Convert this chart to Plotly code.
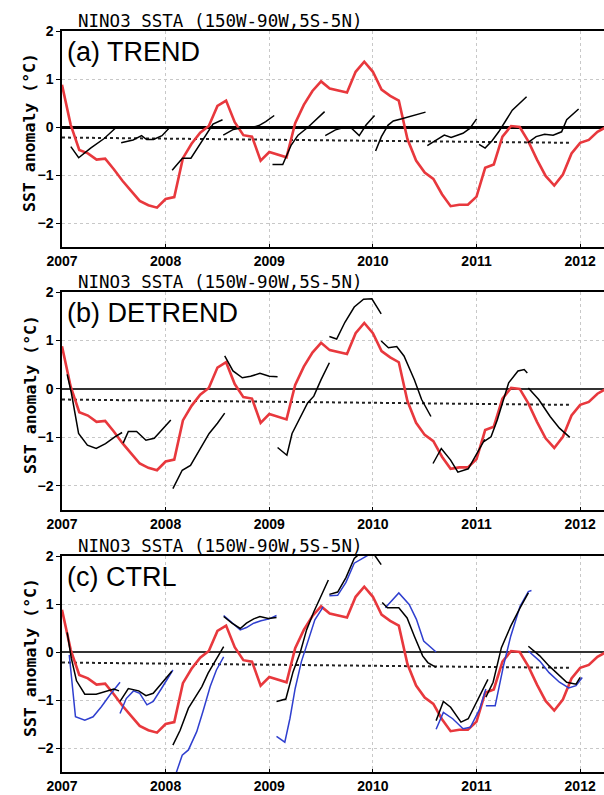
import plotly.graph_objects as go

# ---------------- data ----------------
# observed Nino3 SSTA, monthly from 2007.0
OBS_START = 2007.0
OBS_VALUES = [0.88, 0.05, -0.48, -0.55, -0.68, -0.66, -0.88, -1.12, -1.33, -1.54, -1.63, -1.68,
              -1.50, -1.46, -0.65, -0.35, -0.12, 0.02, 0.44, 0.55, 0.10, -0.17, -0.20, -0.70,
              -0.52, -0.58, -0.63, 0.08, 0.46, 0.75, 0.95, 0.80, 0.76, 0.72, 1.15, 1.36,
              1.15, 0.78, 0.65, 0.55, -0.25, -0.70, -0.95, -1.08, -1.40, -1.65, -1.62, -1.62,
              -1.45, -0.85, -0.78, -0.20, 0.02, 0.00, -0.30, -0.68, -1.02, -1.22, -0.99, -0.55,
              -0.33, -0.27, -0.10, 0.00]

# mean / trend reference line
REF_X = [2007.0, 2011.92]
REF_Y = [-0.22, -0.33]

# (a) TREND forecasts
TREND_X = [
    [2007.085, 2007.161, 2007.276, 2007.407, 2007.522],
    [2007.571, 2007.686, 2007.768, 2007.817, 2007.883, 2007.965, 2008.03],
    [2008.063, 2008.162, 2008.244, 2008.326, 2008.392, 2008.457, 2008.549],
    [2008.556, 2008.654, 2008.769, 2008.85, 2008.90, 2008.966, 2009.048],
    [2009.031, 2009.130, 2009.212, 2009.278, 2009.376, 2009.458, 2009.534],
    [2009.540, 2009.639, 2009.737, 2009.786, 2009.868, 2009.934, 2010.016],
    [2010.026, 2010.082, 2010.147, 2010.197, 2010.279, 2010.393, 2010.508],
    [2010.525, 2010.623, 2010.689, 2010.755, 2010.869, 2010.935, 2011.001],
    [2011.024, 2011.083, 2011.148, 2011.214, 2011.280, 2011.345, 2011.483],
    [2011.493, 2011.575, 2011.657, 2011.739, 2011.821, 2011.870, 2011.985],
]
TREND_Y = [
    [-0.41, -0.64, -0.44, -0.24, -0.01],
    [-0.33, -0.27, -0.18, -0.26, -0.26, -0.18, -0.03],
    [-0.90, -0.65, -0.65, -0.375, -0.13, 0.06, 0.15],
    [-0.17, -0.05, 0.0, 0.0, 0.03, 0.11, 0.24],
    [-0.78, -0.78, -0.375, -0.17, 0.0, 0.17, 0.32],
    [-0.18, -0.06, 0.0, -0.01, -0.18, 0.04, 0.24],
    [-0.50, -0.20, 0.04, 0.125, 0.17, 0.24, 0.31],
    [-0.39, -0.25, -0.17, -0.22, -0.13, -0.03, 0.17],
    [-0.36, -0.44, -0.29, -0.10, 0.125, 0.35, 0.63],
    [-0.33, -0.20, -0.15, -0.17, -0.10, 0.15, 0.375],
]

# (b) DETREND forecasts
DETREND_X = [
    [2007.05, 2007.09, 2007.16, 2007.245, 2007.33, 2007.42, 2007.51, 2007.58],
    [2007.59, 2007.64, 2007.72, 2007.81, 2007.89, 2007.96, 2008.05],
    [2008.07, 2008.16, 2008.24, 2008.33, 2008.42, 2008.50, 2008.57],
    [2008.57, 2008.65, 2008.74, 2008.82, 2008.91, 2009.00, 2009.08],
    [2009.08, 2009.17, 2009.22, 2009.30, 2009.37, 2009.43, 2009.50, 2009.58],
    [2009.58, 2009.65, 2009.73, 2009.82, 2009.91, 2009.99, 2010.08],
    [2010.08, 2010.15, 2010.23, 2010.30, 2010.40, 2010.47, 2010.56],
    [2010.58, 2010.66, 2010.75, 2010.82, 2010.92, 2011.01, 2011.08],
    [2011.07, 2011.14, 2011.20, 2011.25, 2011.31, 2011.40, 2011.46, 2011.49],
    [2011.50, 2011.60, 2011.71, 2011.80, 2011.90],
]
DETREND_Y = [
    [0.30, -0.08, -0.92, -1.16, -1.23, -1.13, -0.99, -0.90],
    [-1.12, -0.88, -0.88, -1.06, -1.02, -0.85, -0.64],
    [-2.06, -1.68, -1.58, -1.26, -0.92, -0.71, -0.50],
    [0.68, 0.37, 0.23, 0.26, 0.32, 0.26, 0.25],
    [-1.21, -1.37, -0.92, -0.57, -0.29, -0.15, 0.19, 0.54],
    [1.08, 1.03, 1.375, 1.69, 1.85, 1.86, 1.55],
    [0.99, 0.85, 0.875, 0.68, 0.19, -0.22, -0.57],
    [-1.54, -1.23, -1.47, -1.72, -1.65, -1.30, -1.04],
    [-1.09, -0.99, -0.64, -0.29, 0.125, 0.37, 0.40, 0.33],
    [0.02, -0.22, -0.57, -0.81, -1.00],
]

# (c) CTRL forecasts, black and blue members
CTRL_BLACK_X = [
    [2007.05, 2007.09, 2007.14, 2007.22, 2007.33, 2007.43, 2007.50, 2007.55],
    [2007.56, 2007.64, 2007.74, 2007.81, 2007.88, 2007.95, 2008.06],
    [2008.07, 2008.14, 2008.22, 2008.28, 2008.35, 2008.41, 2008.49, 2008.56],
    [2008.56, 2008.64, 2008.72, 2008.78, 2008.85, 2008.91, 2008.99, 2009.07],
    [2009.07, 2009.16, 2009.23, 2009.30, 2009.36, 2009.43, 2009.49, 2009.57],
    [2009.58, 2009.66, 2009.74, 2009.82, 2009.90, 2009.99, 2010.08],
    [2010.09, 2010.14, 2010.25, 2010.33, 2010.40, 2010.48, 2010.53, 2010.61],
    [2010.61, 2010.68, 2010.75, 2010.85, 2010.92, 2011.01, 2011.11],
    [2011.09, 2011.16, 2011.24, 2011.33, 2011.42, 2011.50],
    [2011.50, 2011.61, 2011.70, 2011.80, 2011.87, 2011.96, 2012.00],
]
CTRL_BLACK_Y = [
    [0.41, -0.13, -0.60, -0.88, -0.88, -0.81, -0.77, -0.81],
    [-1.03, -0.76, -0.81, -0.91, -0.86, -0.69, -0.40],
    [-1.94, -1.63, -1.17, -0.97, -0.72, -0.44, -0.13, 0.11],
    [0.74, 0.60, 0.49, 0.60, 0.69, 0.74, 0.70, 0.72],
    [-1.03, -0.98, -0.41, 0.0, 0.46, 0.84, 1.12, 1.50],
    [1.20, 1.25, 1.55, 1.95, 2.10, 2.10, 1.82],
    [1.03, 0.92, 0.92, 0.71, 0.33, -0.08, -0.22, -0.32],
    [-1.43, -1.03, -1.15, -1.46, -1.39, -1.01, -0.57],
    [-0.94, -0.63, 0.09, 0.54, 0.92, 1.23],
    [0.12, -0.08, -0.29, -0.50, -0.63, -0.67, -0.53],
]
CTRL_BLUE_X = [
    [2007.07, 2007.13, 2007.22, 2007.30, 2007.38, 2007.46, 2007.56],
    [2007.56, 2007.62, 2007.69, 2007.75, 2007.82, 2007.88, 2007.96, 2008.07],
    [2008.10, 2008.16, 2008.22, 2008.30, 2008.36, 2008.43, 2008.49, 2008.56],
    [2008.56, 2008.64, 2008.72, 2008.78, 2008.85, 2008.92, 2009.00, 2009.07],
    [2009.07, 2009.15, 2009.20, 2009.25, 2009.31, 2009.38, 2009.44, 2009.52],
    [2009.58, 2009.66, 2009.74, 2009.82, 2009.90, 2009.98, 2010.07],
    [2010.12, 2010.18, 2010.25, 2010.35, 2010.42, 2010.49, 2010.55, 2010.61],
    [2010.61, 2010.68, 2010.77, 2010.87, 2010.94, 2011.03, 2011.09],
    [2011.09, 2011.18, 2011.26, 2011.33, 2011.42, 2011.50, 2011.53],
    [2011.50, 2011.61, 2011.70, 2011.80, 2011.89, 2011.96, 2012.02],
]
CTRL_BLUE_Y = [
    [-0.06, -1.35, -1.42, -1.35, -1.14, -0.90, -0.63],
    [-1.28, -0.97, -0.81, -0.86, -1.10, -1.03, -0.76, -0.375],
    [-2.53, -2.15, -2.04, -1.66, -1.24, -0.72, -0.375, -0.10],
    [0.76, 0.62, 0.46, 0.51, 0.60, 0.65, 0.69, 0.76],
    [-1.76, -1.88, -1.38, -0.76, -0.20, 0.25, 0.67, 0.94],
    [1.17, 1.18, 1.45, 1.85, 1.95, 2.05, 2.20],
    [0.92, 1.06, 1.23, 0.99, 0.68, 0.23, 0.12, 0.0],
    [-1.61, -1.26, -1.39, -1.60, -1.57, -1.19, -0.77],
    [-1.12, -1.12, -0.29, 0.33, 0.95, 1.26, 1.28],
    [0.02, -0.19, -0.43, -0.63, -0.75, -0.70, -0.53],
]

PANEL_LABELS = ["(a) TREND", "(b) DETREND", "(c) CTRL"]
PANEL_TITLE = "NINO3 SSTA (150W-90W,5S-5N)"
X_TICKS = [2007, 2008, 2009, 2010, 2011, 2012]
Y_TICKS = [-2, -1, 0, 1, 2]
X_RANGE = [2007.0, 2012.23]
Y_RANGE = [-2.5, 2.0]

# ---------------- style / layout ----------------
W, H = 604, 795
ML = 62
RED = "#e8383d"
BLUE = "#2f3fcf"
# panel pixel boxes (top, bottom)
PANELS = [(31, 247), (292, 510), (556, 772)]
ZERO_W = [2.6, 1.6, 1.6]
ZERO_C = ["#000000", "#333333", "#333333"]


def py(p):
    return 1 - p / H


def px(p):
    return (p - ML) / (W - ML)


def join(xs, ys):
    ox, oy = [], []
    for a, b in zip(xs, ys):
        ox += list(a) + [None]
        oy += list(b) + [None]
    return ox, oy


obs_x = [OBS_START + i / 12 for i in range(len(OBS_VALUES))]

fig = go.Figure()
layout = dict(width=W, height=H, margin=dict(l=ML, r=0, t=0, b=0),
              paper_bgcolor="white", plot_bgcolor="white", showlegend=False)

forecast_sets = [
    [(TREND_X, TREND_Y, "black")],
    [(DETREND_X, DETREND_Y, "black")],
    [(CTRL_BLUE_X, CTRL_BLUE_Y, BLUE), (CTRL_BLACK_X, CTRL_BLACK_Y, "black")],
]

annotations = []
for i, (top, bot) in enumerate(PANELS):
    n = "" if i == 0 else str(i + 1)
    xa, ya = "x" + n, "y" + n
    layout["xaxis" + n] = dict(
        domain=[0, 1], range=X_RANGE, anchor=ya, tickvals=X_TICKS,
        ticktext=[str(t) for t in X_TICKS],
        showline=True, linecolor="black", linewidth=1.5, mirror=True,
        ticks="inside", ticklen=3, tickcolor="black",
        showgrid=True, gridcolor="#c8c8c8", griddash="dot", gridwidth=1,
        zeroline=False, automargin=False,
        tickfont=dict(family="Liberation Sans", size=14, color="black", weight="bold"),
    )
    layout["yaxis" + n] = dict(
        domain=[py(bot), py(top)], range=Y_RANGE, anchor=xa, tickvals=Y_TICKS,
        showline=True, linecolor="black", linewidth=1.5, mirror=False,
        ticks="outside", ticklen=4, tickcolor="black",
        showgrid=True, gridcolor="#c8c8c8", griddash="dot", gridwidth=1,
        zeroline=True, zerolinecolor=ZERO_C[i], zerolinewidth=ZERO_W[i],
        automargin=False,
        tickfont=dict(family="Liberation Sans", size=14, color="black", weight="bold"),
    )
    # reference dashed line
    fig.add_trace(go.Scatter(x=REF_X, y=REF_Y, xaxis=xa, yaxis=ya, mode="lines",
                             line=dict(color="#222222", width=2, dash="dot"),
                             hoverinfo="skip"))
    # observed
    fig.add_trace(go.Scatter(x=obs_x, y=OBS_VALUES, xaxis=xa, yaxis=ya, mode="lines",
                             line=dict(color=RED, width=2.6), hoverinfo="skip"))
    # forecasts
    for sx, sy, col in forecast_sets[i]:
        jx, jy = join(sx, sy)
        fig.add_trace(go.Scatter(x=jx, y=jy, xaxis=xa, yaxis=ya, mode="lines",
                                 line=dict(color=col, width=1.5), connectgaps=False,
                                 hoverinfo="skip"))
    # titles
    annotations.append(dict(text=PANEL_TITLE, xref="paper", yref="paper",
                            x=px(76), y=py(top - 10), xanchor="left", yanchor="middle",
                            showarrow=False,
                            font=dict(family="DejaVu Sans Mono", size=17.5, color="black")))
    annotations.append(dict(text=PANEL_LABELS[i], xref="paper", yref="paper",
                            x=px(65), y=py(top + 21), xanchor="left", yanchor="middle",
                            showarrow=False,
                            font=dict(family="Liberation Sans", size=27, color="black")))
    annotations.append(dict(text="SST anomaly (°C)", xref="paper", yref="paper",
                            x=px(30), y=py((top + bot) / 2 - 6), xanchor="center",
                            yanchor="middle", textangle=-90, showarrow=False,
                            font=dict(family="DejaVu Sans Mono", size=16.5, color="black",
                                      weight="bold")))

layout["annotations"] = annotations
fig.update_layout(**layout)
fig.write_html("out.html", config={"displayModeBar": False},
               post_script="document.body.style.margin='0';document.body.style.padding='0';")
